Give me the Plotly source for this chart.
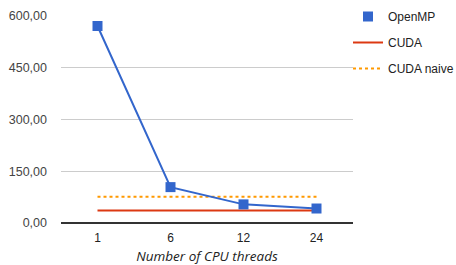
import plotly.graph_objects as go

threads = ["1", "6", "12", "24"]
openmp = [571, 104, 54, 42]
cuda = [36, 36, 36, 36]
cuda_naive = [76, 76, 76, 76]
y_ticks = [0, 150, 300, 450, 600]

BLUE = "#3366cc"
RED = "#dc3912"
ORANGE = "#ff9900"
FONT = "Liberation Sans, Arial, sans-serif"

fig = go.Figure()

fig.add_trace(go.Scatter(
    x=threads, y=cuda_naive, mode="lines", name="CUDA naive",
    line=dict(color=ORANGE, width=2, dash="dot"),
    legendgroup="c", legendrank=3,
))
fig.add_trace(go.Scatter(
    x=threads, y=cuda, mode="lines", name="CUDA",
    line=dict(color=RED, width=2),
    legendgroup="b", legendrank=2,
))
fig.add_trace(go.Scatter(
    x=threads, y=openmp, mode="lines", name="OpenMP",
    line=dict(color=BLUE, width=2), showlegend=False,
    legendgroup="a", legendrank=1,
))
fig.add_trace(go.Scatter(
    x=threads, y=openmp, mode="markers", name="OpenMP",
    marker=dict(color=BLUE, size=10, symbol="square", line=dict(width=0)),
    legendgroup="a", legendrank=1,
))

fig.update_layout(
    width=456, height=265,
    margin=dict(l=61, r=103, t=16, b=42, autoexpand=False),
    paper_bgcolor="white", plot_bgcolor="white",
    separators=",.",
    font=dict(family=FONT, size=12, color="#444"),
    showlegend=True,
    legend=dict(
        xref="container", yref="container",
        x=(388 - 40) / 456, xanchor="left",
        y=1 - 2 / 265, yanchor="top",
        font=dict(family=FONT, size=12, color="#222"),
        tracegroupgap=7, traceorder="grouped",
        bgcolor="rgba(0,0,0,0)", borderwidth=0,
    ),
    xaxis=dict(
        type="category", categoryorder="array", categoryarray=threads,
        range=[-0.5, len(threads) - 0.5],
        showgrid=False, showline=False, zeroline=False, automargin=False,
        ticklabelstandoff=6,
        tickfont=dict(family=FONT, size=12, color="#222"),
        title=dict(text="<i>Number of CPU threads</i>",
                   font=dict(family="Open Sans, sans-serif", size=13.5, color="#222"),
                   standoff=7),
    ),
    yaxis=dict(
        range=[0, 600], tickvals=y_ticks, tickformat=".2f",
        gridcolor="#cccccc", gridwidth=1, automargin=False,
        zeroline=True, zerolinecolor="#333333", zerolinewidth=2,
        showline=False, ticklabelstandoff=13,
        tickfont=dict(family=FONT, size=12.5, color="#444"),
    ),
)

fig.write_html("out.html", config={"displayModeBar": False},
               post_script="document.body.style.margin='0';")
